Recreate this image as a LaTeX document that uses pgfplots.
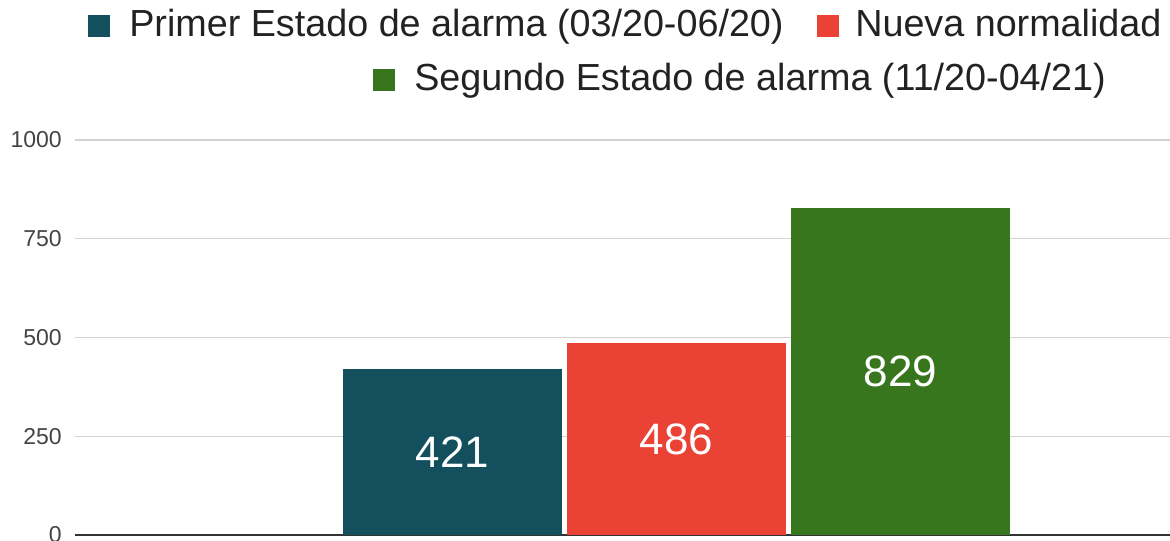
\documentclass[border=0pt]{standalone}
\usepackage{pgfplots}
\pgfplotsset{compat=1.18}
\usepackage{fontspec}
\setmainfont{Liberation Sans}
\definecolor{c1}{HTML}{134F5C}
\definecolor{c2}{HTML}{EA4335}
\definecolor{c3}{HTML}{38761D}
\definecolor{tickc}{HTML}{444444}
\definecolor{legc}{HTML}{222222}
\definecolor{gridc}{HTML}{D3D3D3}
\newcommand\legfont{\fontsize{28.3pt}{34pt}\selectfont}
\begin{document}
\begin{tikzpicture}
\useasboundingbox (0pt,0pt) rectangle (877.5pt,-405.75pt);
\clip (0pt,0pt) rectangle (877.5pt,-405.75pt);
\coordinate (O) at (56.25pt,-401.25pt);
\begin{axis}[
  at={(O)}, anchor=south west, scale only axis,
  width=902.25pt, height=296.25pt,
  ymin=0, ymax=1000, ytick={0,250,500,750,1000},
  xmin=-1, xmax=1, xtick=\empty,
  enlargelimits=false,
  ybar=3.75pt, bar width=164.25pt,
  axis x line*=bottom, axis y line*=left,
  y axis line style={draw=none},
  x axis line style={draw=black!80, line width=1.1pt},
  ymajorgrids, grid style={draw=gridc, line width=0.9pt},
  major tick length=0pt,
  /pgf/number format/assume math mode=true,
  /pgf/number format/1000 sep={},
  yticklabel style={anchor=east, inner sep=0pt, xshift=-9.75pt, text=tickc, font=\fontsize{17.25pt}{20pt}\selectfont},
  visualization depends on={rawy \as \rawy},
  nodes near coords,
  nodes near coords style={anchor=center, text=white, font=\fontsize{33pt}{40pt}\selectfont, yshift={-0.148125pt*\rawy}},
]
\addplot[fill=c1, draw=none] coordinates {(0,421)};
\addplot[fill=c2, draw=none] coordinates {(0,486)};
\addplot[fill=c3, draw=none] coordinates {(0,829)};
\end{axis}
\begin{scope}[x=0.75pt,y=-0.75pt]
\fill[c1] (88,15) rectangle (110,37);
\node[anchor=base west, inner sep=0pt, text=legc, font=\legfont] at (129,37) {Primer Estado de alarma (03/20-06/20)};
\fill[c2] (817,15) rectangle (839,37);
\node[anchor=base west, inner sep=0pt, text=legc, font=\legfont] at (855,37) {Nueva normalidad (};
\fill[c3] (373,69) rectangle (395,91);
\node[anchor=base west, inner sep=0pt, text=legc, font=\legfont] at (414,91) {Segundo Estado de alarma (11/20-04/21)};
\end{scope}
\end{tikzpicture}
\end{document}
